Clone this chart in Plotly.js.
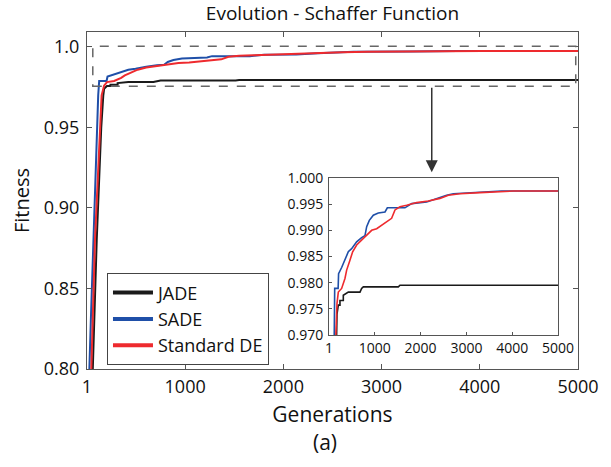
<!DOCTYPE html>
<html>
<head>
<meta charset="utf-8">
<script src="https://cdn.plot.ly/plotly-3.0.1.min.js"></script>
<style>html,body{margin:0;padding:0;background:#fff;}#chart{width:611px;height:467px;}</style>
</head>
<body>
<div id="chart"></div>
<script>
// ---- data ----
const seriesNames = ["JADE", "SADE", "Standard DE"];
const seriesColors = ["#1a1a1a", "#1f4fa8", "#ee2a2e"];

const jadeGen = [1, 60, 100, 146, 167, 175, 204, 240, 240, 313, 313, 422, 677, 713, 750, 1514, 1550, 5000];
const jadeFit = [0.60, 0.80, 0.88, 0.95, 0.970, 0.9740, 0.9757, 0.9757, 0.9766, 0.9766, 0.9776, 0.9782, 0.9782, 0.9789, 0.9792, 0.9792, 0.9795, 0.9795];

const sadeGen = [1, 20, 40, 65, 85, 100, 115, 125, 200, 210, 277, 349, 422, 495, 604, 713, 786, 823, 881, 968, 1077, 1223, 1274, 1659, 1805, 2132, 2351, 2569, 2715, 3297, 3770, 5000];
const sadeFit = [0.70, 0.79, 0.83, 0.88, 0.92, 0.95, 0.970, 0.9789, 0.9789, 0.9817, 0.9829, 0.9843, 0.9859, 0.9865, 0.9878, 0.9886, 0.9890, 0.9907, 0.9919, 0.9929, 0.9933, 0.9935, 0.9943, 0.9943, 0.9951, 0.9954, 0.9961, 0.9967, 0.9970, 0.9972, 0.9975, 0.9975];

const sdeGen = [1, 45, 82, 110, 130, 150, 175, 204, 277, 349, 386, 458, 517, 604, 713, 837, 932, 1041, 1150, 1259, 1368, 1441, 1550, 1696, 1914, 2169, 2424, 2606, 2860, 3297, 3734, 4025, 5000];
const sdeFit = [0.65, 0.80, 0.88, 0.92, 0.95, 0.970, 0.9760, 0.9782, 0.9789, 0.9808, 0.9824, 0.9843, 0.9859, 0.9872, 0.9881, 0.9891, 0.9900, 0.9903, 0.9910, 0.9916, 0.9923, 0.9939, 0.9945, 0.9948, 0.9953, 0.9956, 0.9961, 0.9967, 0.9970, 0.9972, 0.9974, 0.9975, 0.9975];

const mainXTicks = [1, 1000, 2000, 3000, 4000, 5000];
const mainXTickText = ["1", "1000", "2000", "3000", "4000", "5000"];
const mainYTicks = [0.80, 0.85, 0.90, 0.95, 1.0];
const mainYTickText = ["0.80", "0.85", "0.90", "0.95", "1.0"];
const insetYTicks = [0.970, 0.975, 0.980, 0.985, 0.990, 0.995, 1.000];
const insetYTickText = ["0.970", "0.975", "0.980", "0.985", "0.990", "0.995", "1.000"];

const zoomBox = {x0: 60, x1: 4977, y0: 0.9756, y1: 1.0005};
const arrowGen = 3511, arrowTip = 0.9222;

// ---- build ----
const gens = [jadeGen, sadeGen, sdeGen];
const fits = [jadeFit, sadeFit, sdeFit];
const FONT = "Open Sans, Noto Sans, sans-serif";
const traces = [];
for (let i = 0; i < 3; i++) {
  traces.push({x: gens[i], y: fits[i], type: "scatter", mode: "lines", name: seriesNames[i],
    line: {color: seriesColors[i], width: 2}, xaxis: "x", yaxis: "y", showlegend: false});
}
for (let i = 0; i < 3; i++) {
  traces.push({x: gens[i], y: fits[i], type: "scatter", mode: "lines", name: seriesNames[i],
    line: {color: seriesColors[i], width: 1.6}, xaxis: "x2", yaxis: "y2", showlegend: false});
}
for (let i = 0; i < 3; i++) {
  traces.push({x: [null], y: [null], type: "scatter", mode: "lines", name: seriesNames[i],
    line: {color: seriesColors[i], width: 4}, xaxis: "x", yaxis: "y", showlegend: true});
}

const axisCommon = {showgrid: false, zeroline: false, showline: true, linecolor: "#555", linewidth: 1,
  ticks: "inside", tickcolor: "#555"};

const layout = {
  width: 611, height: 467,
  margin: {l: 87, r: 33, t: 32, b: 98},
  paper_bgcolor: "#fff", plot_bgcolor: "#fff",
  font: {family: FONT, color: "#111"},
  title: {text: "Evolution - Schaffer Function", font: {size: 19, family: FONT, color: "#111"},
    x: 0.5, xref: "paper", y: 1 - 13 / 467, yref: "container", yanchor: "middle"},
  xaxis: Object.assign({}, axisCommon, {range: [1, 5000], tickvals: mainXTicks, ticktext: mainXTickText,
    mirror: "ticks", ticklen: 5, tickfont: {size: 18}, ticklabelstandoff: 1,
    title: {text: "Generations", font: {size: 21}, standoff: 10}, domain: [0, 1]}),
  yaxis: Object.assign({}, axisCommon, {range: [0.8, 1.0093], tickvals: mainYTicks, ticktext: mainYTickText,
    mirror: "ticks", ticklen: 5, tickfont: {size: 18}, ticklabelstandoff: 3,
    title: {text: "Fitness", font: {size: 20}, standoff: 8}, domain: [0, 1]}),
  xaxis2: Object.assign({}, axisCommon, {range: [1, 5000], tickvals: mainXTicks, ticktext: mainXTickText,
    mirror: true, ticklen: 3, tickfont: {size: 14}, anchor: "y2", domain: [0.4929, 0.9593], ticklabelstandoff: 0}),
  yaxis2: Object.assign({}, axisCommon, {range: [0.970, 1.0], tickvals: insetYTicks, ticktext: insetYTickText,
    mirror: true, ticklen: 3, tickfont: {size: 14}, anchor: "x2", domain: [0.1009, 0.5668], ticklabelstandoff: 2}),
  legend: {x: 0.0407, y: 0.284, xanchor: "left", yanchor: "top", bgcolor: "#fff",
    bordercolor: "#444", borderwidth: 1, font: {size: 18, family: FONT, color: "#111"},
    itemwidth: 40, tracegroupgap: 0},
  shapes: [{type: "rect", xref: "x", yref: "y", x0: zoomBox.x0, x1: zoomBox.x1, y0: zoomBox.y0, y1: zoomBox.y1,
    line: {color: "#666", width: 1.5, dash: "dash"}}],
  annotations: [
    {x: arrowGen, y: arrowTip, ax: arrowGen, ay: zoomBox.y0, xref: "x", yref: "y", axref: "x", ayref: "y",
      text: "", showarrow: true, arrowhead: 2, arrowsize: 1.6, arrowwidth: 1.5, arrowcolor: "#333"},
    {x: 0.485, y: -0.217, xref: "paper", yref: "paper", text: "(a)", showarrow: false,
      font: {size: 21, family: FONT, color: "#111"}, xanchor: "center", yanchor: "middle"}
  ]
};

Plotly.newPlot("chart", traces, layout, {displayModeBar: false, staticPlot: true});
</script>
</body>
</html>
